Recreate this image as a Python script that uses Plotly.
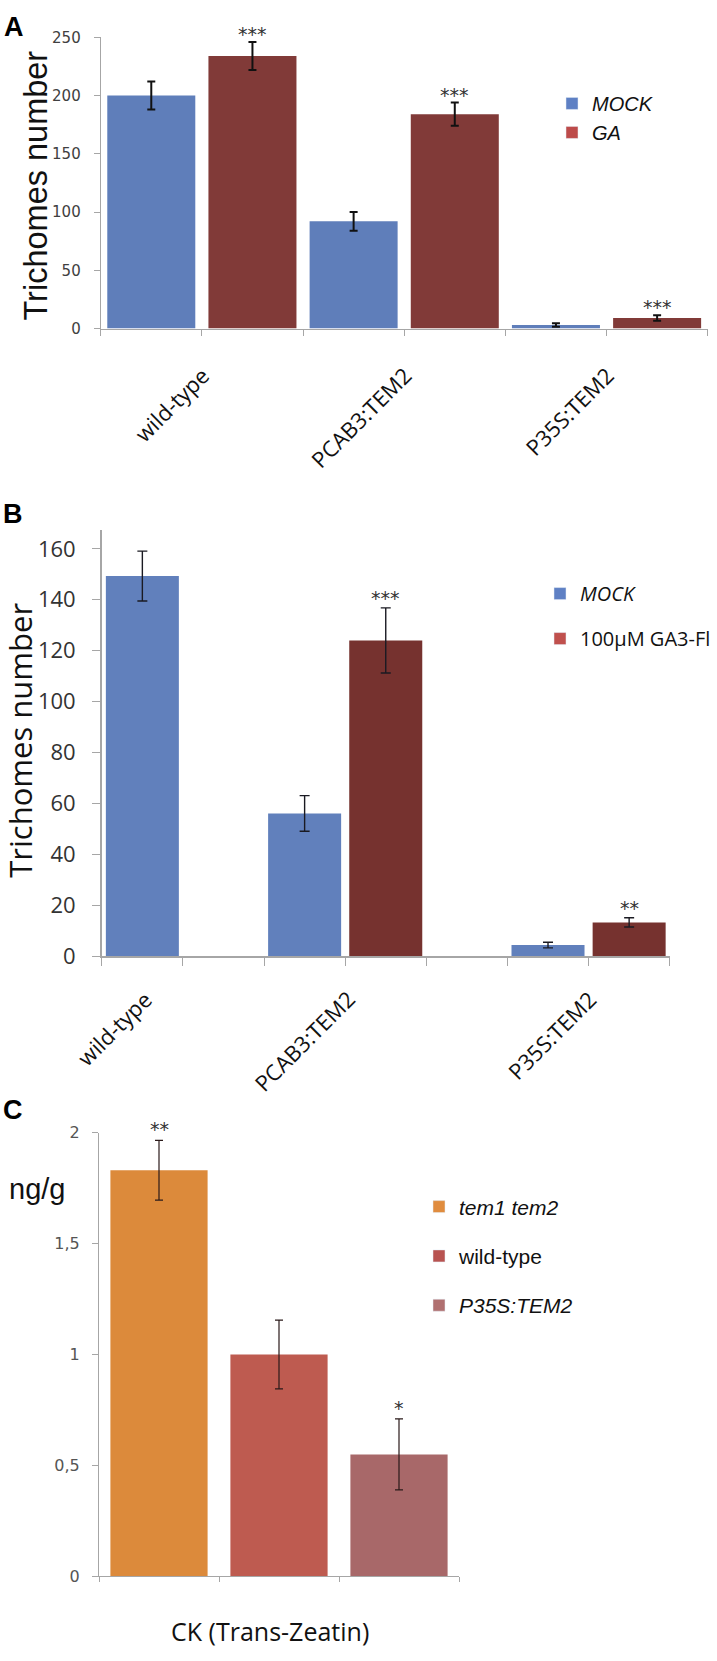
import plotly.graph_objects as go

W, H = 717, 1661

# ---------------- data ----------------
A_categories = ["wild-type", "PCAB3:TEM2", "P35S:TEM2"]
A_mock = [200, 92, 3]
A_mock_err = [12, 8, 1.5]
A_ga = [234, 184, 9]
A_ga_err = [12, 10, 2.3]
A_ga_stars = ["***", "***", "***"]
A_yticks = [0, 50, 100, 150, 200, 250]

B_categories = ["wild-type", "PCAB3:TEM2", "P35S:TEM2"]
B_mock = [149.3, 56, 4.3]
B_mock_err = [9.8, 7, 1.1]
B_ga = [None, 124, 13.2]
B_ga_err = [None, 12.8, 1.8]
B_ga_stars = ["", "***", "**"]
B_yticks = [0, 20, 40, 60, 80, 100, 120, 140, 160]

C_groups = ["tem1 tem2", "wild-type", "P35S:TEM2"]
C_values = [1.83, 1.0, 0.55]
C_err = [0.135, 0.155, 0.16]
C_stars = ["**", "", "*"]
C_yticks = [0, 0.5, 1, 1.5, 2]
C_yticktext = ["0", "0,5", "1", "1,5", "2"]
C_xlabel = "CK (Trans-Zeatin)"

# ---------------- layout helpers ----------------
def px(p):
    return p / W


def py(p):
    return 1 - p / H


# slot layout (positions of bars along the category axes)
A_mock_slot = [0, 2, 4]
A_ga_slot = [1, 3, 5]
B_mock_slot = [0, 2, 5]
B_ga_slot = [1, 3, 6]
C_slot = [0, 1, 2]

MOCK_A = "#5F7EBA"
GA_A = "#813A38"
MOCK_B = "#6180BC"
GA_B = "#76322F"
C_colors = ["#DC8A3B", "#BE5B50", "#A86869"]
C_legend_colors = ["#E08C3E", "#B85350", "#B07070"]

fig = go.Figure()

# ---------------- panel A ----------------
fig.add_trace(go.Bar(
    x=[s + 0.5 for s in A_mock_slot], y=A_mock, width=0.87,
    marker=dict(color=MOCK_A, line=dict(width=0)),
    error_y=dict(type="data", array=A_mock_err, visible=True,
                 thickness=2, width=4, color="#111111"),
    xaxis="x", yaxis="y", showlegend=False, name="MOCK"))
fig.add_trace(go.Bar(
    x=[s + 0.5 for s in A_ga_slot], y=A_ga, width=0.87,
    marker=dict(color=GA_A, line=dict(width=0)),
    error_y=dict(type="data", array=A_ga_err, visible=True,
                 thickness=2, width=4, color="#111111"),
    xaxis="x", yaxis="y", showlegend=False, name="GA"))
# legend entries
fig.add_trace(go.Bar(x=[None], y=[None], name="<i>MOCK</i>", marker_color="#5E80C4",
                     xaxis="x", yaxis="y", legend="legend", legendgroup="a1"))
fig.add_trace(go.Bar(x=[None], y=[None], name="<i>GA</i>", marker_color="#BD4B4A",
                     xaxis="x", yaxis="y", legend="legend", legendgroup="a2"))

# ---------------- panel B ----------------
fig.add_trace(go.Bar(
    x=[s + 0.5 for s in B_mock_slot], y=B_mock, width=0.9,
    marker=dict(color=MOCK_B, line=dict(width=0)),
    error_y=dict(type="data", array=B_mock_err, visible=True,
                 thickness=1.4, width=5, color="#1A1A22"),
    xaxis="x2", yaxis="y2", showlegend=False, name="MOCK"))
fig.add_trace(go.Bar(
    x=[s + 0.5 for s in B_ga_slot], y=B_ga, width=0.9,
    marker=dict(color=GA_B, line=dict(width=0)),
    error_y=dict(type="data", array=[e if e is not None else 0 for e in B_ga_err],
                 visible=True, thickness=1.4, width=5, color="#1A1A22"),
    xaxis="x2", yaxis="y2", showlegend=False, name="100µM GA3-Fl"))
fig.add_trace(go.Bar(x=[None], y=[None], name="<i>MOCK</i>", marker_color="#5E80C4",
                     xaxis="x2", yaxis="y2", legend="legend2", legendgroup="b1"))
fig.add_trace(go.Bar(x=[None], y=[None], name="100µM GA3-Fl", marker_color="#C0504D",
                     xaxis="x2", yaxis="y2", legend="legend2", legendgroup="b2"))

# ---------------- panel C ----------------
for i, g in enumerate(C_groups):
    fig.add_trace(go.Bar(
        x=[C_slot[i] + 0.5], y=[C_values[i]], width=0.81,
        marker=dict(color=C_colors[i], line=dict(width=0)),
        error_y=dict(type="data", array=[C_err[i]], visible=True,
                     thickness=1.2, width=4, color="#2A1A1A"),
        xaxis="x3", yaxis="y3", showlegend=False, name=g))
C_legend_names = ["<i>tem1 tem2</i>", "wild-type", "<i>P35S:TEM2</i>"]
for i, nm in enumerate(C_legend_names):
    fig.add_trace(go.Bar(x=[None], y=[None], name=nm, marker_color=C_legend_colors[i],
                         xaxis="x3", yaxis="y3", legend="legend3", legendgroup="c%d" % i))

# ---------------- annotations ----------------
ann = []
# significance stars (data positions)
for i, s in enumerate(A_ga_stars):
    if s:
        ann.append(dict(xref="x", yref="y", x=A_ga_slot[i] + 0.5, y=A_ga[i] + A_ga_err[i],
                        text=s, showarrow=False, yanchor="middle", yshift=8,
                        font=dict(family="DejaVu Sans", size=19, color="#333")))
for i, s in enumerate(B_ga_stars):
    if s:
        ann.append(dict(xref="x2", yref="y2", x=B_ga_slot[i] + 0.5, y=B_ga[i] + B_ga_err[i],
                        text=s, showarrow=False, yanchor="middle", yshift=10,
                        font=dict(family="DejaVu Sans", size=19, color="#333")))
for i, s in enumerate(C_stars):
    if s:
        ann.append(dict(xref="x3", yref="y3", x=C_slot[i] + 0.5, y=C_values[i] + C_err[i],
                        text=s, showarrow=False, yanchor="middle", yshift=11,
                        font=dict(family="DejaVu Sans", size=19, color="#333")))

# rotated category labels
for i, c in enumerate(A_categories):
    ann.append(dict(xref="x", yref="paper", x=2 * i + 1.16, y=py(354),
                    text=c, showarrow=False, textangle=-45,
                    xanchor="right", yanchor="top",
                    font=dict(family="Open Sans", size=22, color="#111")))
B_label_pos = [0.72, 3.22, 6.2]
for i, c in enumerate(B_categories):
    ann.append(dict(xref="x2", yref="paper", x=B_label_pos[i], y=py(986),
                    text=c, showarrow=False, textangle=-45,
                    xanchor="right", yanchor="top",
                    font=dict(family="Open Sans", size=22, color="#111")))

# axis titles / labels
ann.append(dict(xref="paper", yref="paper", x=px(36), y=py(179), text="Trichomes number",
                textangle=-90, showarrow=False, xanchor="center", yanchor="middle",
                font=dict(family="Liberation Sans", size=32.5, color="#111")))
ann.append(dict(xref="paper", yref="paper", x=px(20), y=py(742), text="Trichomes number",
                textangle=-90, showarrow=False, xanchor="center", yanchor="middle",
                font=dict(family="Open Sans", size=31, color="#111")))
ann.append(dict(xref="paper", yref="paper", x=px(37), y=py(1197), text="ng/g",
                showarrow=False, xanchor="center", yanchor="middle",
                font=dict(family="Liberation Sans", size=29, color="#111")))
ann.append(dict(xref="paper", yref="paper", x=px(270), y=py(1645), text=C_xlabel,
                showarrow=False, xanchor="center", yanchor="middle",
                font=dict(family="Open Sans", size=25, color="#111")))

# panel letters
for letter, (lx, ly) in zip("ABC", [(14, 18), (13, 512), (13, 1116)]):
    ann.append(dict(xref="paper", yref="paper", x=px(lx), y=py(ly), text="<b>%s</b>" % letter,
                    showarrow=False, xanchor="center", yanchor="middle",
                    font=dict(family="Liberation Sans", size=27, color="#000")))

AX = "#A6A6A6"

fig.update_layout(
    width=W, height=H, margin=dict(l=0, r=0, t=0, b=0),
    paper_bgcolor="white", plot_bgcolor="white",
    barmode="overlay",
    annotations=ann,
    xaxis=dict(domain=[px(100.7), px(707.7)], range=[0, 6], anchor="y",
               tickvals=list(range(7)), showticklabels=False, ticks="outside",
               ticklen=6, tickcolor=AX, showline=True, linecolor=AX, linewidth=1,
               showgrid=False, zeroline=False, fixedrange=True),
    yaxis=dict(domain=[py(324), py(28.7)], range=[0, 250], anchor="x",
               tickvals=A_yticks, ticks="outside", ticklen=6, tickcolor=AX,
               showline=True, linecolor=AX, linewidth=1, showgrid=False, zeroline=False,
               ticklabelstandoff=10,
               tickfont=dict(family="DejaVu Sans", size=15, color="#404040")),
    xaxis2=dict(domain=[px(101.8), px(669.7)], range=[0, 7], anchor="y2",
                tickvals=list(range(8)), showticklabels=False, ticks="outside",
                ticklen=8, tickcolor=AX, showline=True, linecolor=AX, linewidth=1.5,
                showgrid=False, zeroline=False),
    yaxis2=dict(domain=[py(960.3), py(528.3)], range=[0, 167.4], anchor="x2",
                tickvals=B_yticks, ticks="outside", ticklen=8, tickcolor=AX,
                showline=True, linecolor=AX, linewidth=1.5, showgrid=False, zeroline=False,
                ticklabelstandoff=12,
                tickfont=dict(family="Open Sans", size=22, color="#333")),
    xaxis3=dict(domain=[px(99), px(459)], range=[0, 3], anchor="y3",
                tickvals=[0, 1, 2, 3], showticklabels=False, ticks="outside",
                ticklen=5, tickcolor=AX, showline=True, linecolor=AX, linewidth=1,
                showgrid=False, zeroline=False),
    yaxis3=dict(domain=[py(1589.5), py(1139.3)], range=[0, 2], anchor="x3",
                tickvals=C_yticks, ticktext=C_yticktext, ticks="outside", ticklen=6,
                tickcolor=AX, showline=True, linecolor=AX, linewidth=1, showgrid=False,
                zeroline=False, ticklabelstandoff=9,
                tickfont=dict(family="DejaVu Sans", size=16, color="#555")),
    legend=dict(x=px(552), y=py(76), xanchor="left", yanchor="top",
                bgcolor="rgba(0,0,0,0)", tracegroupgap=0,
                font=dict(family="Liberation Sans", size=20, color="#111")),
    legend2=dict(x=px(540), y=py(573), xanchor="left", yanchor="top",
                 bgcolor="rgba(0,0,0,0)", tracegroupgap=16,
                 font=dict(family="Open Sans", size=20, color="#111")),
    legend3=dict(x=px(419), y=py(1194), xanchor="left", yanchor="top",
                 bgcolor="rgba(0,0,0,0)", tracegroupgap=19,
                 font=dict(family="Liberation Sans", size=21, color="#111")),
)

fig.write_html("out.html", config={"displayModeBar": False},
               post_script="document.body.style.margin='0px';")
